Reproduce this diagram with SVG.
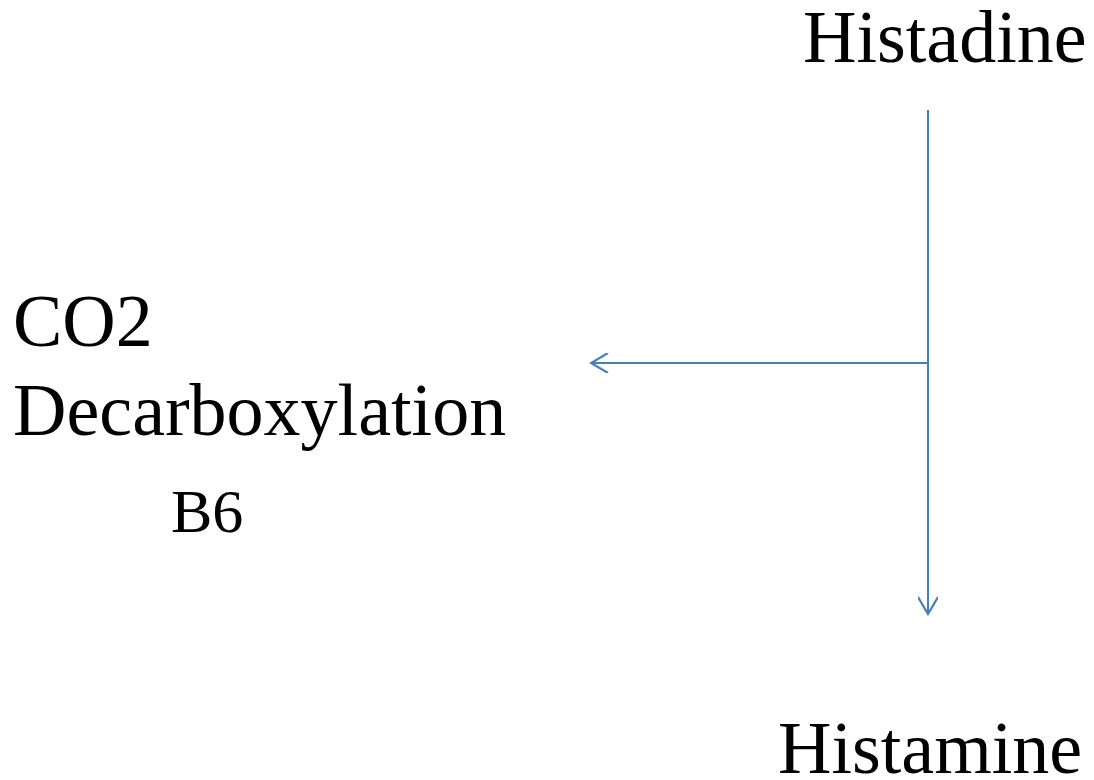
<svg xmlns="http://www.w3.org/2000/svg" width="1094" height="780" viewBox="0 0 1094 780">
<style>
text{font-family:'Liberation Serif','Times New Roman','DejaVu Serif',serif;fill:#000}
.big{font-size:74px}
.mid{font-size:62px}
.conn{stroke:#4A7EBB;stroke-width:2;fill:none}
</style>
<defs>
<marker id="open" viewBox="0 0 20 20" refX="18" refY="10" markerWidth="20" markerHeight="20" markerUnits="userSpaceOnUse" orient="auto">
<path d="M1,0 L18,10 L1,20" fill="none" stroke="#4A7EBB" stroke-width="2.2"/>
</marker>
</defs>
<rect width="1094" height="780" fill="#fff"/>
<g id="connectors">
<line class="conn" x1="928" y1="110" x2="928" y2="614" marker-end="url(#open)"/>
<line class="conn" x1="928" y1="363" x2="591" y2="363" marker-end="url(#open)"/>
</g>
<g id="histadine"><text class="big" x="803" y="62" font-family="Liberation Serif, serif">Histadine</text></g>
<g id="histamine"><text class="big" x="778" y="773" font-family="Liberation Serif, serif">Histamine</text></g>
<g id="co2"><text class="big" x="13" y="346" font-family="Liberation Serif, serif">CO2</text></g>
<g id="decarboxylation"><text class="big" x="13" y="435" font-family="Liberation Serif, serif">Decarboxylation</text></g>
<g id="b6"><text class="mid" x="171" y="532" font-family="Liberation Serif, serif">B6</text></g>
</svg>
